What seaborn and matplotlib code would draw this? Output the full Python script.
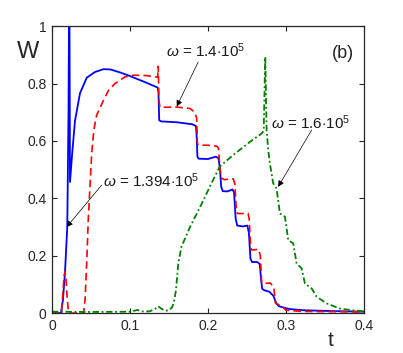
import matplotlib
matplotlib.use("Agg")
import matplotlib.pyplot as plt
import seaborn as sns
import pandas as pd

# curves (t, W)
blue_t = [0, 0.0115, 0.014, 0.0167, 0.0196, 0.0212, 0.0222, 0.0231, 0.026, 0.0295, 0.0359,
          0.0445, 0.055, 0.066, 0.075, 0.088, 0.1, 0.12, 0.1355, 0.1365, 0.1375, 0.14, 0.16,
          0.18, 0.1845, 0.1855, 0.1865, 0.188, 0.2, 0.21, 0.2135, 0.2155, 0.217, 0.219, 0.225,
          0.2315, 0.2335, 0.2355, 0.2375, 0.245, 0.2505, 0.2525, 0.2545, 0.2565, 0.2635,
          0.2665, 0.268, 0.2695, 0.272, 0.279, 0.284, 0.2875, 0.291, 0.2987, 0.305, 0.322,
          0.36, 0.4]
blue_w = [0, 0, 0.045, 0.144, 0.30, 0.7, 1.2, 0.457, 0.56, 0.67, 0.766,
          0.82, 0.84, 0.85, 0.849, 0.838, 0.826, 0.804, 0.786, 0.77, 0.672, 0.668, 0.665,
          0.658, 0.652, 0.62, 0.545, 0.538, 0.537, 0.545, 0.54, 0.5, 0.44, 0.425, 0.424,
          0.431, 0.42, 0.33, 0.305, 0.302, 0.305, 0.28, 0.19, 0.178, 0.178,
          0.17, 0.12, 0.085, 0.08, 0.074, 0.06, 0.035, 0.024, 0.018, 0.014, 0.01,
          0.007, 0.005]

red_t = [0, 0.012, 0.0135, 0.0155, 0.0168, 0.018, 0.0195, 0.021, 0.0225, 0.0405, 0.0425,
         0.0445, 0.0465, 0.0487, 0.0509, 0.0538, 0.0573, 0.0658, 0.0722, 0.0808, 0.0936,
         0.104, 0.12, 0.1355, 0.1362, 0.1372, 0.1385, 0.16, 0.177, 0.183, 0.1855, 0.1865,
         0.188, 0.2, 0.211, 0.2135, 0.2155, 0.2175, 0.221, 0.2325, 0.2345, 0.2365, 0.238,
         0.2515, 0.2528, 0.2548, 0.256, 0.265, 0.2672, 0.2688, 0.27, 0.28, 0.2845, 0.2865,
         0.29, 0.296, 0.30, 0.32, 0.4]
red_w = [0, 0, 0.05, 0.13, 0.145, 0.12, 0.05, 0.01, 0, 0, 0.05,
         0.173, 0.324, 0.44, 0.556, 0.64, 0.69, 0.74, 0.775, 0.80, 0.823,
         0.829, 0.828, 0.822, 0.86, 0.74, 0.717, 0.718, 0.713, 0.70, 0.68, 0.59,
         0.585, 0.585, 0.582, 0.575, 0.5, 0.47, 0.465, 0.468, 0.45, 0.355, 0.347,
         0.347, 0.33, 0.23, 0.22, 0.222, 0.2, 0.11, 0.103, 0.105, 0.09, 0.035,
         0.03, 0.022, 0.01, 0.006, 0.004]

green_t = [0, 0.05, 0.1, 0.105, 0.11, 0.115, 0.125, 0.132, 0.136, 0.14, 0.145, 0.15, 0.154,
           0.1565, 0.159, 0.162, 0.166, 0.177, 0.19, 0.205, 0.215, 0.232, 0.254, 0.269,
           0.2715, 0.2735, 0.2752, 0.2773, 0.2795, 0.2837, 0.288, 0.2923, 0.2987, 0.303,
           0.3094, 0.3137, 0.3201, 0.3244, 0.333, 0.3394, 0.352, 0.369, 0.385, 0.4]
green_w = [0.005, 0.004, 0.005, 0.008, 0.011, 0.006, 0.006, 0.014, 0.024, 0.016, 0.008, 0.01, 0.02,
           0.04, 0.08, 0.174, 0.231, 0.30, 0.37, 0.455, 0.51, 0.55, 0.597, 0.626,
           0.635, 0.893, 0.64, 0.568, 0.52, 0.452, 0.434, 0.347, 0.336, 0.254,
           0.243, 0.173, 0.156, 0.103, 0.086, 0.057, 0.034, 0.016, 0.01, 0.006]

sns.set_style("ticks")
plt.rcParams["font.family"] = ["Liberation Sans", "DejaVu Sans"]
plt.rcParams["mathtext.fontset"] = "custom"
plt.rcParams["mathtext.rm"] = "Liberation Sans"
plt.rcParams["mathtext.it"] = "Liberation Sans:italic"

fig = plt.figure(figsize=(4.03, 3.53), dpi=100)
ax = fig.add_axes([0.129, 0.113, 0.774, 0.813])

blue = pd.DataFrame({"t": blue_t, "W": blue_w})
red = pd.DataFrame({"t": red_t, "W": red_w})
green = pd.DataFrame({"t": green_t, "W": green_w})

sns.lineplot(data=blue, x="t", y="W", sort=False, estimator=None, color="#0000ff", lw=1.3, ax=ax)
sns.lineplot(data=red, x="t", y="W", sort=False, estimator=None, color="#ff0000", lw=1.2,
             ax=ax, linestyle=(0, (4.5, 2.5)))
sns.lineplot(data=green, x="t", y="W", sort=False, estimator=None, color="#008000", lw=1.3,
             ax=ax, linestyle=(0, (3.5, 1.5, 1, 1.5)))

ax.set_xlim(0, 0.4)
ax.set_ylim(0, 1)
ax.set_xticks([0, 0.1, 0.2, 0.3, 0.4])
ax.set_xticklabels(["0", "0.1", "0.2", "0.3", "0.4"])
ax.set_yticks([0, 0.2, 0.4, 0.6, 0.8, 1])
ax.set_yticklabels(["0", "0.2", "0.4", "0.6", "0.8", "1"])
ax.tick_params(direction="in", length=3.5, width=0.8, top=True, right=True,
               labelsize=10, colors="#262626", pad=4)
for s in ax.spines.values():
    s.set_visible(True)
    s.set_linewidth(0.9)
    s.set_color("#262626")

ax.set_xlabel("t", fontsize=15, color="#262626")
ax.xaxis.set_label_coords(0.894, -0.063)
ax.set_ylabel("W", fontsize=17, rotation=0, color="#262626", ha="center", va="center")
ax.yaxis.set_label_coords(-0.077, 0.909)

ax.text(0.373, 0.906, "(b)", fontsize=13, ha="center", va="center", color="#262626")

arrow = dict(arrowstyle="-|>", color="k", lw=0.5, mutation_scale=9, shrinkA=0, shrinkB=0)
txt = dict(fontsize=11, ha="center", va="center", color="#1a1a1a")

ax.text(0.197, 0.915, r"$\omega$ = 1.4$\cdot$10$^5$", **txt)
ax.annotate("", xy=(0.160, 0.72), xytext=(0.1875, 0.875), arrowprops=arrow)

ax.text(0.127, 0.463, r"$\omega$ = 1.394$\cdot$10$^5$", **txt)
ax.annotate("", xy=(0.0188, 0.30), xytext=(0.0637, 0.446), arrowprops=arrow)

ax.text(0.332, 0.665, r"$\omega$ = 1.6$\cdot$10$^5$", **txt)
ax.annotate("", xy=(0.290, 0.44), xytext=(0.333, 0.638), arrowprops=arrow)

fig.savefig("out.png", dpi=100)
